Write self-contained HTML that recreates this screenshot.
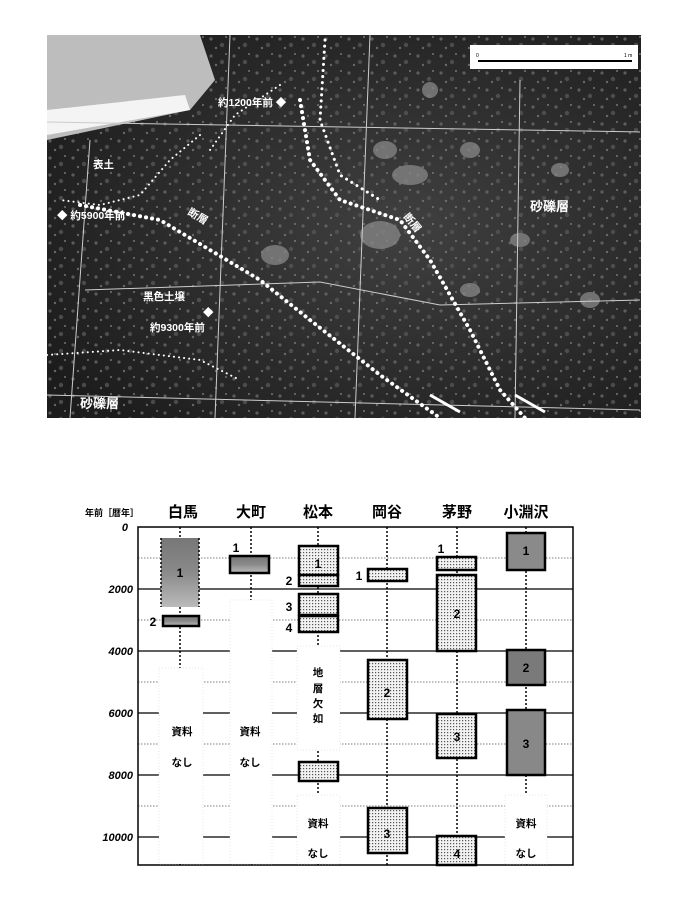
<!DOCTYPE html>
<html><head><meta charset="utf-8"><style>
body{margin:0;background:#fff;width:681px;height:909px;overflow:hidden;font-family:"Liberation Sans","Noto Sans CJK JP",sans-serif}
svg{position:absolute;left:0;top:0}
</style></head><body>
<svg width="681" height="909" viewBox="0 0 681 909" xmlns="http://www.w3.org/2000/svg" font-family="Liberation Sans, Noto Sans CJK JP, sans-serif">
<defs>
<pattern id="dots" width="3" height="3" patternUnits="userSpaceOnUse"><rect width="3" height="3" fill="#f2f2f2"/><rect width="1.2" height="1.2" fill="#555"/></pattern>
<pattern id="speck" width="23" height="17" patternUnits="userSpaceOnUse"><circle cx="4" cy="5" r="1.6" fill="#6a6a6a"/><circle cx="15" cy="11" r="2.2" fill="#555"/><circle cx="19" cy="3" r="1" fill="#888"/><circle cx="9" cy="14" r="1.2" fill="#777"/></pattern>
<linearGradient id="g1" x1="0" y1="0" x2="0" y2="1"><stop offset="0" stop-color="#777"/><stop offset="0.5" stop-color="#8a8a8a"/><stop offset="1" stop-color="#bbb"/></linearGradient>
<radialGradient id="ph" cx="0.6" cy="0.5" r="0.7"><stop offset="0" stop-color="#404040"/><stop offset="1" stop-color="#1c1c1c"/></radialGradient>
</defs>
<!-- photo -->
<rect x="47" y="35" width="594" height="383" fill="url(#ph)"/>
<rect x="47" y="35" width="594" height="383" fill="url(#speck)" opacity="0.8"/>
<path d="M47 35 L200 35 L215 80 L190 110 L47 140 Z" fill="#bdbdbd"/>
<path d="M47 110 L185 95 L190 110 L47 135 Z" fill="#f4f4f4"/>
<g fill="#888" opacity="0.75">
<ellipse cx="385" cy="150" rx="12" ry="9"/><ellipse cx="410" cy="175" rx="18" ry="10"/><ellipse cx="380" cy="235" rx="20" ry="14"/><ellipse cx="470" cy="150" rx="10" ry="8"/><ellipse cx="560" cy="170" rx="9" ry="7"/><ellipse cx="275" cy="255" rx="14" ry="10"/><ellipse cx="590" cy="300" rx="10" ry="8"/><ellipse cx="470" cy="290" rx="10" ry="7"/><ellipse cx="430" cy="90" rx="8" ry="8"/><ellipse cx="520" cy="240" rx="10" ry="7"/>
</g>
<rect x="470" y="45" width="168" height="24" fill="#fff"/>
<line x1="478" y1="61" x2="632" y2="61" stroke="#000" stroke-width="2"/>
<text x="476" y="57" font-size="5">0</text><text x="624" y="57" font-size="5">1 m</text>
<g stroke="#ccc" stroke-width="1" fill="none">
<path d="M47 122 L640 132"/><path d="M85 290 L320 282 L440 305 L640 300"/><path d="M47 395 L640 410"/>
<path d="M90 140 L70 418"/><path d="M230 35 L215 418"/><path d="M370 35 L355 418"/><path d="M520 80 L515 418"/>
</g>
<g stroke="#fff" fill="none" stroke-linecap="round">
<path d="M300 100 L310 160 L340 200 L400 220 L430 260 L470 330 L500 390 L525 418" stroke-width="4" stroke-dasharray="0.1 6"/>
<path d="M325 40 L320 120 L340 175 L380 200" stroke-width="3" stroke-dasharray="0.1 6"/>
<path d="M80 205 L160 220 L210 250 L260 280 L310 320 L380 375 L440 418" stroke-width="4" stroke-dasharray="0.1 6"/>
<path d="M200 135 L170 160 L140 195 L100 205 L60 200" stroke-width="2" stroke-dasharray="0.1 5"/>
<path d="M47 355 L120 350 L200 360 L240 380" stroke-width="2" stroke-dasharray="0.1 5"/>
<path d="M280 85 L235 115 L210 150" stroke-width="2" stroke-dasharray="0.1 5"/>
</g>
<g fill="#fff" font-size="10.5" font-weight="bold">
<text x="218" y="106">約1200年前 ◆</text>
<text x="93" y="168">表土</text>
<text x="57" y="219">◆ 約5900年前</text>
<text x="187" y="214" transform="rotate(30 187 214)">断層</text>
<text x="403" y="217" transform="rotate(50 403 217)">断層</text>
<text x="530" y="211" font-size="13">砂礫層</text>
<text x="143" y="300">黒色土壌</text>
<text x="203" y="316">◆</text>
<text x="150" y="331">約9300年前</text>
<text x="80" y="408" font-size="13">砂礫層</text>
</g>
<path d="M430 395 L460 412 M515 395 L545 412" stroke="#fff" stroke-width="3"/>
<!-- chart -->
<g font-weight="bold">
<text x="85" y="516" font-size="9">年前［暦年］</text>
<g font-size="15" text-anchor="middle"><text x="183" y="517">白馬</text><text x="251" y="517">大町</text><text x="318" y="517">松本</text><text x="387" y="517">岡谷</text><text x="457" y="517">茅野</text><text x="526" y="517">小淵沢</text></g>
<g font-size="11" font-style="italic" text-anchor="end"><text x="128" y="531">0</text><text x="133" y="593">2000</text><text x="133" y="655">4000</text><text x="133" y="717">6000</text><text x="133" y="779">8000</text><text x="133" y="841">10000</text></g>
</g>
<g stroke="#555" stroke-width="0.8" stroke-dasharray="1.5 1.5"><path d="M138 558H573M138 620H573M138 682H573M138 744H573M138 806H573"/></g>
<g stroke="#000" stroke-width="1.3"><path d="M138 589H573M138 651H573M138 713H573M138 775H573M138 837H573"/></g>
<rect x="138" y="527" width="435" height="338" fill="none" stroke="#000" stroke-width="1.5"/>
<g stroke="#000" stroke-width="1.5" stroke-dasharray="2 2"><path d="M180 527V865M251 527V865M318 527V865M387 527V865M457 527V865M526 527V865"/></g>
<!-- white blanks -->
<g fill="#fff" stroke="#ddd" stroke-width="0.7" stroke-dasharray="1 2"><rect x="159" y="668" width="44" height="196"/><rect x="230" y="600" width="42" height="264"/><rect x="297" y="646" width="43" height="104"/><rect x="297" y="795" width="43" height="69"/><rect x="505" y="795" width="42" height="69"/></g>
<g stroke="#000" stroke-width="2.5">
<rect x="161" y="538" width="38" height="69" fill="url(#g1)" stroke="none"/>
<rect x="163" y="616" width="36" height="10" fill="url(#g1)"/>
<rect x="230" y="556" width="39" height="17" fill="url(#g1)"/>
<rect x="299" y="546" width="39" height="29" fill="url(#dots)"/><rect x="299" y="575" width="39" height="11" fill="url(#dots)"/>
<rect x="299" y="594" width="39" height="21" fill="url(#dots)"/><rect x="299" y="616" width="39" height="16" fill="url(#dots)"/>
<rect x="299" y="762" width="39" height="19" fill="url(#dots)"/>
<rect x="368" y="569" width="39" height="12" fill="url(#dots)"/><rect x="368" y="660" width="39" height="59" fill="url(#dots)"/><rect x="368" y="808" width="39" height="45" fill="url(#dots)"/>
<rect x="437" y="557" width="39" height="13" fill="url(#dots)"/><rect x="437" y="575" width="39" height="76" fill="url(#dots)"/><rect x="437" y="714" width="39" height="44" fill="url(#dots)"/><rect x="437" y="836" width="39" height="29" fill="url(#dots)"/>
<rect x="507" y="533" width="38" height="37" fill="#8a8a8a"/><rect x="507" y="650" width="38" height="35" fill="#7a7a7a"/><rect x="507" y="710" width="38" height="65" fill="#888"/>
</g>
<path d="M161 538V607M199 538V607" stroke="#000" stroke-width="1.5" stroke-dasharray="2 2"/>
<g font-weight="bold" font-size="12" text-anchor="middle">
<text x="180" y="577">1</text><text x="153" y="626">2</text><text x="236" y="552">1</text>
<text x="318" y="568">1</text><text x="289" y="585">2</text><text x="289" y="611">3</text><text x="289" y="632">4</text>
<text x="359" y="580">1</text><text x="387" y="697">2</text><text x="387" y="838">3</text>
<text x="441" y="553">1</text><text x="457" y="618">2</text><text x="457" y="741">3</text><text x="457" y="858">4</text>
<text x="526" y="555">1</text><text x="526" y="672">2</text><text x="526" y="748">3</text>
</g>
<g font-weight="bold" font-size="10.5" text-anchor="middle">
<text x="182" y="735">資料</text><text x="182" y="766">なし</text>
<text x="250" y="735">資料</text><text x="250" y="766">なし</text>
<text x="318" y="676">地</text><text x="318" y="692">層</text><text x="318" y="707">欠</text><text x="318" y="722">如</text>
<text x="318" y="827">資料</text><text x="318" y="857">なし</text>
<text x="526" y="827">資料</text><text x="526" y="857">なし</text>
</g>
</svg>
</body></html>
